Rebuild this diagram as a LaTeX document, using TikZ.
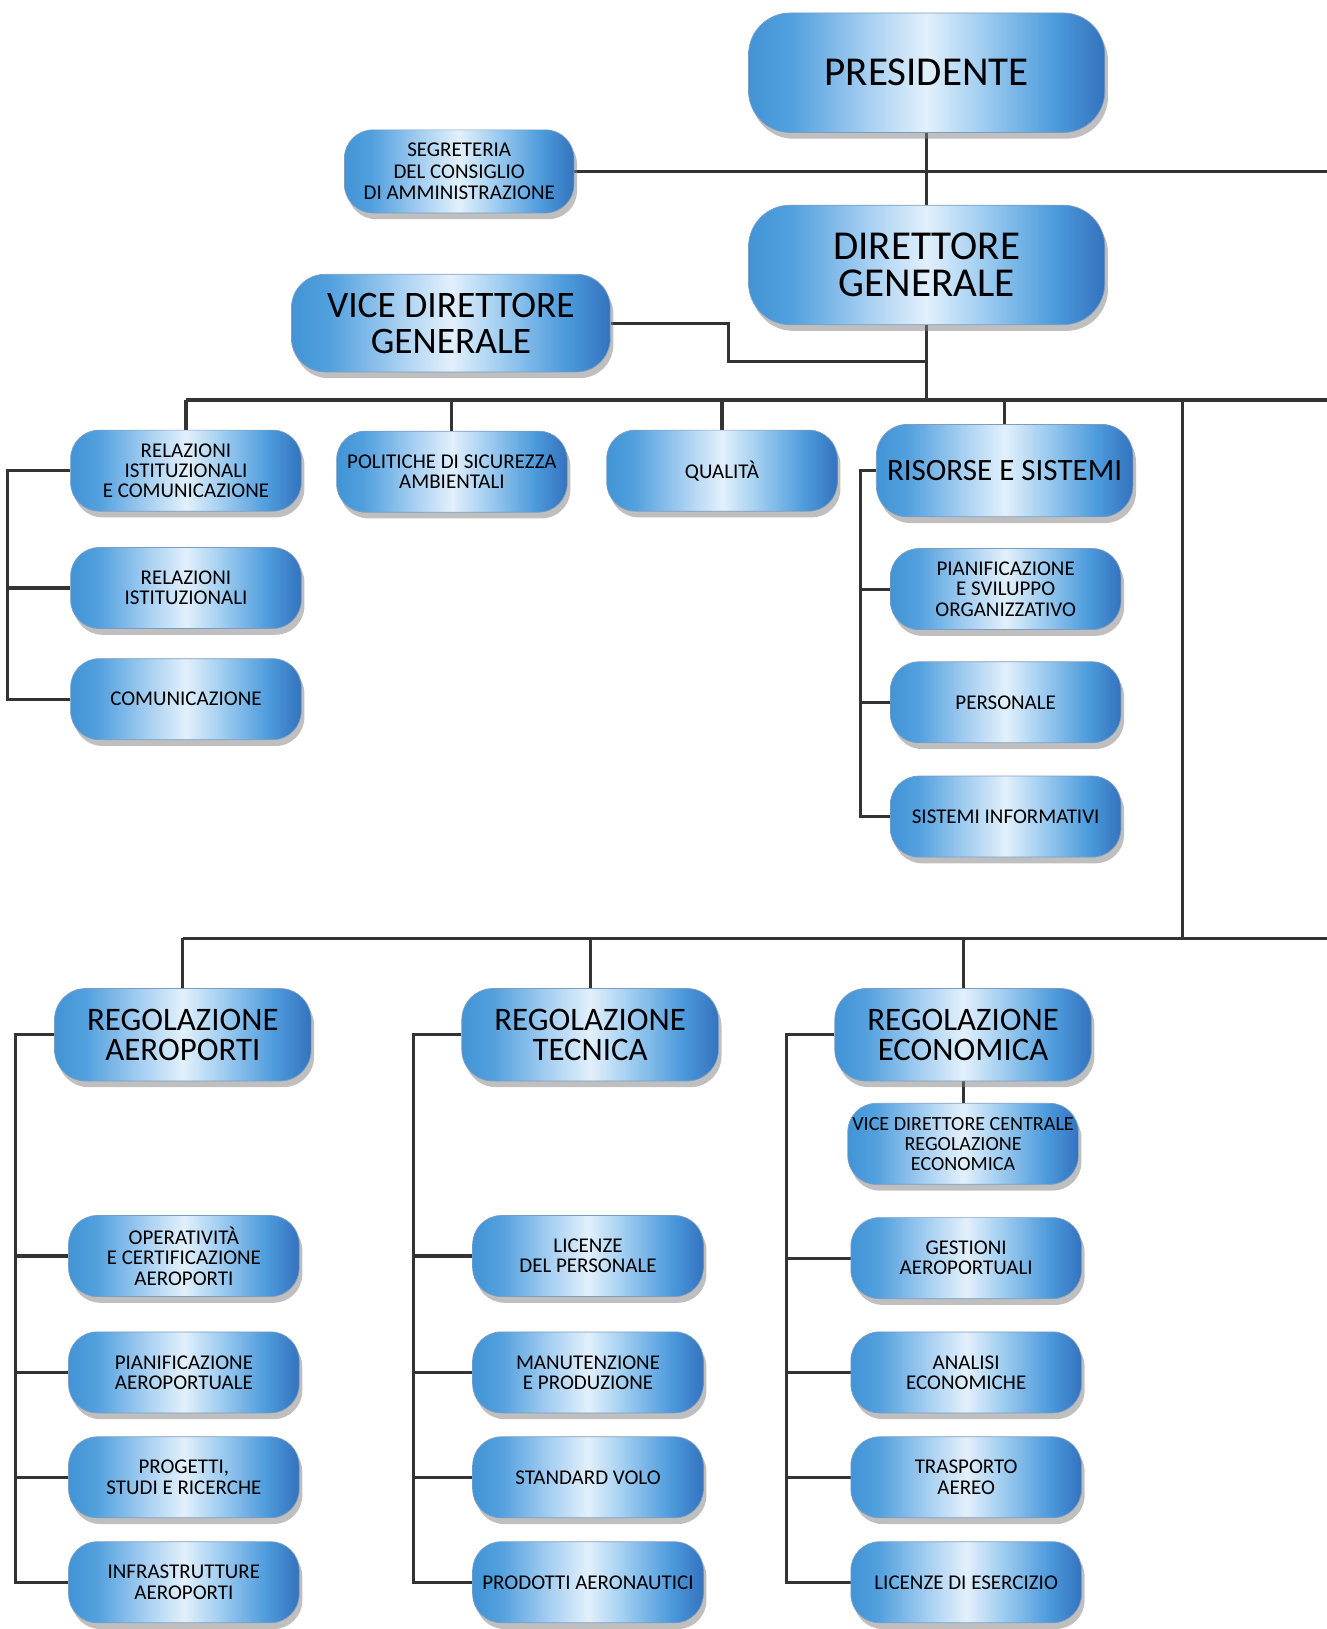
\documentclass[tikz,border=0pt]{standalone}
\usepackage{fontspec}
\setmainfont{Carlito}
\usetikzlibrary{shapes,shadows,calc}
\pgfdeclarelayer{background}
\pgfsetlayers{background,main}
\definecolor{boxL}{RGB}{66,148,214}
\definecolor{boxA}{RGB}{82,160,222}
\definecolor{boxB}{RGB}{168,208,242}
\definecolor{boxM}{RGB}{226,240,251}
\definecolor{boxC}{RGB}{158,204,240}
\definecolor{boxD}{RGB}{76,154,220}
\definecolor{boxR}{RGB}{52,115,190}
\definecolor{boxE}{RGB}{40,90,150}
\definecolor{lineGray}{RGB}{51,51,51}
\pgfdeclarehorizontalshading{officeshade}{100bp}{color(0bp)=(boxL); color(25bp)=(boxL); color(31bp)=(boxA); color(42bp)=(boxB); color(50bp)=(boxM); color(58bp)=(boxC); color(68bp)=(boxD); color(75bp)=(boxR); color(100bp)=(boxR)}

\begin{document}
\begin{tikzpicture}[x=0.02cm,y=-0.02cm]
        \tikzstyle{every node}=[font=\fontsize{11.5}{11.1}\selectfont]
        \tikzstyle{office}=[rectangle,rounded corners=0.55cm,shading=officeshade,draw=boxE!60,line width=0.4pt,drop shadow={shadow xshift=0.6mm,shadow yshift=-1.2mm,opacity=0.5},align=center,inner xsep=1pt,minimum width=4.44cm,minimum height=1.56cm]
        \tikzstyle{chief}=[office,font=\fontsize{22.5}{20.4}\selectfont,minimum width=6.86cm,minimum height=2.3cm,rounded corners=0.8cm]
        \tikzstyle{dept}=[office,font=\fontsize{18}{16.6}\selectfont,minimum width=4.94cm,minimum height=1.78cm,rounded corners=0.6cm]
        \tikzstyle{wire}=[draw=lineGray,line width=1.7pt]
        \useasboundingbox (0,0) rectangle (1277,1568);
        \node[chief] (pres) at (892,70) {PRESIDENTE};
        \node[office,minimum width=4.42cm,minimum height=1.6cm,font=\fontsize{11.5}{11.6}\selectfont] (segr) at (442,165) {SEGRETERIA\\DEL CONSIGLIO\\DI AMMINISTRAZIONE};
        \node[chief] (dir) at (892,255) {DIRETTORE\\GENERALE};
        \node[chief,minimum width=6.14cm,minimum height=1.88cm,rounded corners=0.65cm,font=\fontsize{20.5}{19.6}\selectfont] (vice) at (434,311) {VICE DIRETTORE\\GENERALE};
        \node[office] (rel) at (179,453) {RELAZIONI\\ISTITUZIONALI\\E COMUNICAZIONE};
        \node[office] (pol) at (435,454) {POLITICHE DI SICUREZZA\\AMBIENTALI};
        \node[office] (qual) at (695,453) {QUALITÀ};
        \node[dept,font=\fontsize{17}{16}\selectfont] (ris) at (967,453) {RISORSE E SISTEMI};
        \node[office] (relist) at (179,566) {RELAZIONI\\ISTITUZIONALI};
        \node[office] (com) at (179,673) {COMUNICAZIONE};
        \node[office] (pianif) at (968,567) {PIANIFICAZIONE\\E SVILUPPO\\ORGANIZZATIVO};
        \node[office] (pers) at (968,676) {PERSONALE};
        \node[office] (sist) at (968,786) {SISTEMI INFORMATIVI};
        \node[dept] (regaer) at (176,996) {REGOLAZIONE\\AEROPORTI};
        \node[dept] (regtec) at (568,996) {REGOLAZIONE\\TECNICA};
        \node[dept] (regeco) at (927,996) {REGOLAZIONE\\ECONOMICA};
        \node[office,font=\fontsize{11}{11.1}\selectfont] (vdc) at (927,1101) {VICE DIRETTORE CENTRALE\\REGOLAZIONE\\ECONOMICA};
        \node[office] (oper) at (177,1209) {OPERATIVITÀ\\E CERTIFICAZIONE\\AEROPORTI};
        \node[office] (pianaer) at (177,1321) {PIANIFICAZIONE\\AEROPORTUALE};
        \node[office] (prog) at (177,1422) {PROGETTI,\\STUDI E RICERCHE};
        \node[office] (infra) at (177,1523) {INFRASTRUTTURE\\AEROPORTI};
        \node[office] (lic) at (566,1209) {LICENZE\\DEL PERSONALE};
        \node[office] (manut) at (566,1321) {MANUTENZIONE\\E PRODUZIONE};
        \node[office] (std) at (566,1422) {STANDARD VOLO};
        \node[office] (prod) at (566,1523) {PRODOTTI AERONAUTICI};
        \node[office] (gest) at (930,1211) {GESTIONI\\AEROPORTUALI};
        \node[office] (anal) at (930,1321) {ANALISI\\ECONOMICHE};
        \node[office] (trasp) at (930,1422) {TRASPORTO\\AEREO};
        \node[office] (licese) at (930,1523) {LICENZE DI ESERCIZIO};
        \coordinate (edgeR) at (1277,0);
        \coordinate (kneeV) at (701,348);
        \coordinate (busT) at (0,385);
        \coordinate (busM) at (1138,903);
        \coordinate (colA) at (7,0);
        \coordinate (colB) at (828,0);
        \coordinate (colC) at (15,0);
        \coordinate (colD) at (398,0);
        \coordinate (colE) at (757,0);
        \begin{pgfonlayer}{background}
        \draw[wire] (pres.south) -- (dir.north);
        \draw[wire] (segr.east) -- (segr.east -| edgeR);
        \draw[wire] (vice.east) -| (kneeV) -- (kneeV -| dir.south);
        \draw[wire] (dir.south) -- (dir.south |- busT);
        \draw[wire] (rel.north |- busT) -- (busT -| edgeR);
        \foreach \n in {rel,pol,qual,ris} \draw[wire] (\n.north |- busT) -- (\n.north);
        \draw[wire] (busM |- busT) -- (busM);
        \draw[wire] (regaer.north |- busM) -- (busM -| edgeR);
        \foreach \n in {regaer,regtec,regeco} \draw[wire] (\n.north |- busM) -- (\n.north);
        \draw[wire] (rel.west) -- (rel.west -| colA) |- (com.west);
        \draw[wire] (relist.west -| colA) -- (relist.west);
        \draw[wire] (ris.west) -- (ris.west -| colB) |- (sist.west);
        \foreach \n in {pianif,pers} \draw[wire] (\n.west -| colB) -- (\n.west);
        \draw[wire] (regaer.west) -- (regaer.west -| colC) |- (infra.west);
        \foreach \n in {oper,pianaer,prog} \draw[wire] (\n.west -| colC) -- (\n.west);
        \draw[wire] (regtec.west) -- (regtec.west -| colD) |- (prod.west);
        \foreach \n in {lic,manut,std} \draw[wire] (\n.west -| colD) -- (\n.west);
        \draw[wire] (regeco.west) -- (regeco.west -| colE) |- (licese.west);
        \foreach \n in {gest,anal,trasp} \draw[wire] (\n.west -| colE) -- (\n.west);
        \draw[wire] (regeco.south) -- (vdc.north);
        \end{pgfonlayer}
      \end{tikzpicture}
\end{document}
